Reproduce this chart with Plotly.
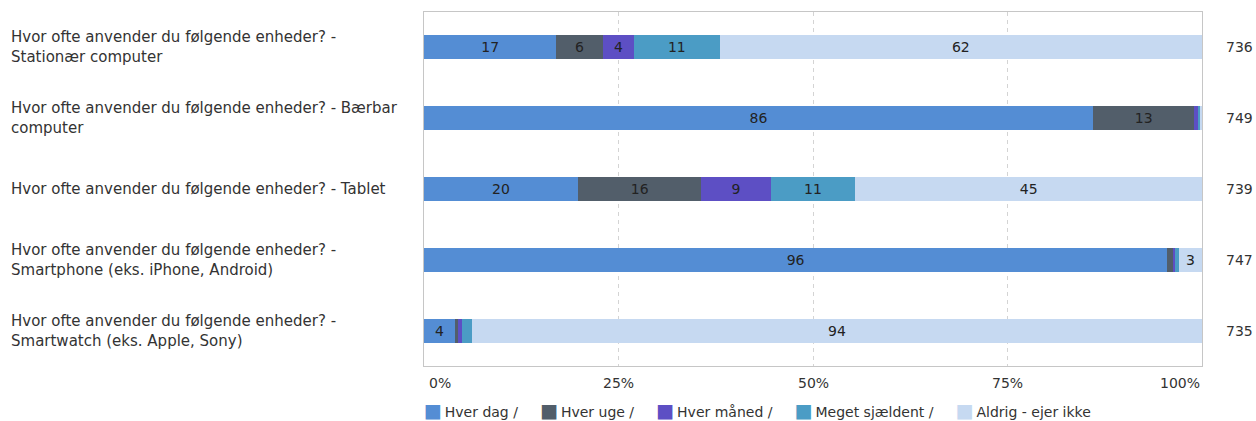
import plotly.graph_objects as go

# Questions (one row per device)
categories = [
    "Hvor ofte anvender du følgende enheder? -<br>Stationær computer",
    "Hvor ofte anvender du følgende enheder? - Bærbar<br>computer",
    "Hvor ofte anvender du følgende enheder? - Tablet",
    "Hvor ofte anvender du følgende enheder? -<br>Smartphone (eks. iPhone, Android)",
    "Hvor ofte anvender du følgende enheder? -<br>Smartwatch (eks. Apple, Sony)",
]
row_ids = ["q1", "q2", "q3", "q4", "q5"]

# Number of respondents per row
respondents = [736, 749, 739, 747, 735]

# Answer categories and share (%) per row
series_names = ["Hver dag /", "Hver uge /", "Hver måned /", "Meget sjældent /", "Aldrig - ejer ikke"]
hver_dag = [17, 86, 20, 96, 4]
hver_uge = [6, 13, 16, 0.8, 0.4]
hver_maaned = [4, 0.6, 9, 0.2, 0.5]
meget_sjaeldent = [11, 0.2, 11, 0.5, 1.3]
aldrig = [62, 0.2, 45, 3, 94]

series_values = [hver_dag, hver_uge, hver_maaned, meget_sjaeldent, aldrig]
colors = ["#548DD4", "#525E6A", "#5D4FC4", "#4B9CC5", "#C6D9F1"]

# Axis ticks
tick_vals = [0, 25, 50, 75, 100]
tick_text = ["0%", "25%", "50%", "75%", "100%"]

FONT = "DejaVu Sans, Verdana, sans-serif"
TEXT_COLOR = "#333333"

fig = go.Figure()
for name, vals, col in zip(series_names, series_values, colors):
    labels = [f"{round(v)}" if v >= 2.5 else "" for v in vals]
    fig.add_trace(go.Bar(
        y=row_ids,
        x=vals,
        name=name,
        orientation="h",
        marker=dict(color=col, line=dict(width=0)),
        text=labels,
        textposition="inside",
        insidetextanchor="middle",
        constraintext="none",
        textfont=dict(family=FONT, size=14, color="#222222"),
        hoverinfo="x+name",
        showlegend=False,
    ))

annotations = []

# Row labels on the left, left-aligned
for rid, label in zip(row_ids, categories):
    annotations.append(dict(
        x=0, xref="paper", xanchor="left", xshift=-415,
        y=rid, yref="y", yanchor="middle",
        text=label, align="left", showarrow=False,
        font=dict(family=FONT, size=15, color=TEXT_COLOR),
    ))

# Respondent counts on the right
for rid, n in zip(row_ids, respondents):
    annotations.append(dict(
        x=1, xref="paper", xanchor="left", xshift=22,
        y=rid, yref="y", yanchor="middle",
        text=str(n), showarrow=False,
        font=dict(family=FONT, size=14, color=TEXT_COLOR),
    ))

# Percentage tick labels, edge labels kept inside the plot width
for v, t in zip(tick_vals, tick_text):
    anchor = "left" if v == tick_vals[0] else ("right" if v == tick_vals[-1] else "center")
    annotations.append(dict(
        x=v, xref="x", xanchor=anchor, xshift=3 if anchor == "left" else 0,
        y=0, yref="paper", yanchor="middle", yshift=-17,
        text=t, showarrow=False,
        font=dict(family=FONT, size=14, color=TEXT_COLOR),
    ))

# Legend row
legend_parts = []
for name, col in zip(series_names, colors):
    legend_parts.append(
        f'<span style="color:{col};font-size:19px">■</span>&#8201;{name}'
    )
annotations.append(dict(
    x=0, xref="paper", xanchor="left", xshift=-2,
    y=0, yref="paper", yanchor="middle", yshift=-44,
    text="&nbsp;&nbsp;&nbsp;&nbsp;&nbsp;".join(legend_parts), showarrow=False, align="left",
    font=dict(family=FONT, size=14, color=TEXT_COLOR),
))

fig.update_layout(
    barmode="stack",
    barnorm="percent",
    bargap=0.66,
    width=1256,
    height=421,
    margin=dict(l=424, r=54, t=12, b=55),
    paper_bgcolor="white",
    plot_bgcolor="white",
    font=dict(family=FONT, size=14, color=TEXT_COLOR),
    annotations=annotations,
    xaxis=dict(
        range=[0, 100],
        tickvals=tick_vals[1:-1],
        showticklabels=False,
        showgrid=True,
        gridcolor="#d4d4d4",
        griddash="4px,4px",
        gridwidth=1,
        zeroline=False,
        showline=True,
        mirror=True,
        linecolor="#c6c6c6",
        linewidth=1,
        fixedrange=True,
    ),
    yaxis=dict(
        categoryorder="array",
        categoryarray=row_ids,
        autorange="reversed",
        showticklabels=False,
        showgrid=False,
        zeroline=False,
        showline=True,
        mirror=True,
        linecolor="#c6c6c6",
        linewidth=1,
        fixedrange=True,
    ),
)

fig.write_html("out.html")
